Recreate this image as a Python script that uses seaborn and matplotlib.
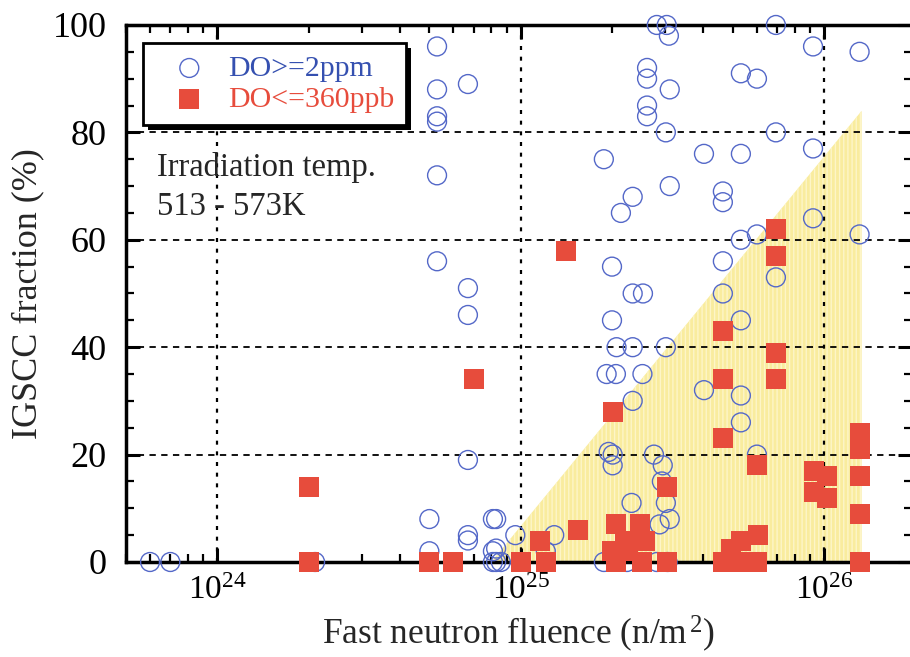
import matplotlib
matplotlib.use("Agg")
import matplotlib.pyplot as plt
import matplotlib.patheffects as pe
from matplotlib.ticker import LogLocator, MultipleLocator, LogFormatterMathtext, NullFormatter
import pandas as pd
import seaborn as sns

# %% data: fluence (n/m^2), IGSCC fraction (%)
do_high_fluence = [
    6.0e23, 7.0e23, 2.1e24, 5.0e24, 5.0e24, 5.3e24, 5.3e24, 5.3e24, 5.3e24, 5.3e24,
    5.3e24, 6.7e24, 6.7e24, 6.7e24, 6.7e24, 6.7e24, 6.7e24, 8.1e24, 8.3e24, 8.3e24,
    8.1e24, 8.1e24, 8.3e24, 8.6e24, 9.6e24, 1.21e25, 1.29e25, 1.88e25, 2.0e25, 1.88e25,
    2.0e25, 2.07e25, 1.92e25, 2.06e25, 1.95e25, 2.01e25, 2.01e25, 2.14e25, 2.34e25, 2.34e25,
    2.53e25, 2.34e25, 2.34e25, 2.32e25, 2.24e25, 2.52e25, 2.61e25, 2.61e25, 2.61e25, 2.61e25,
    2.75e25, 2.81e25, 2.87e25, 2.92e25, 2.94e25, 3.01e25, 3.01e25, 3.01e25, 3.10e25, 2.81e25,
    3.03e25, 3.08e25, 3.10e25, 3.10e25, 3.05e25, 4.02e25, 4.02e25, 4.64e25, 4.64e25, 4.64e25,
    4.64e25, 5.32e25, 6.01e25, 5.32e25, 5.32e25, 6.01e25, 5.32e25, 5.32e25, 5.32e25, 6.01e25,
    6.94e25, 6.94e25, 6.94e25, 9.2e25, 9.2e25, 9.2e25, 1.31e26, 1.31e26,
]
do_high_fraction = [
    0, 0, 0, 8, 2, 96, 88, 83, 82, 72,
    56, 89, 51, 46, 19, 5, 4, 8, 8, 2.5,
    2, 0, 0, 0, 5, 2, 5, 75, 55, 0,
    45, 40, 35, 35, 20.5, 20, 18, 65, 68, 50,
    50, 40, 30, 11, 0, 35, 92, 90, 85, 83,
    20, 0, 7, 15, 18, 80, 40, 11, 88, 100,
    100, 98, 70, 8, 0, 76, 32, 69, 67, 56,
    50, 91, 90, 76, 60, 61, 45, 31, 26, 20,
    100, 80, 53, 96, 77, 64, 95, 61,
]

do_low_fluence = [
    2.0e24, 2.0e24, 5.0e24, 6.0e24, 7.0e24, 1.0e25, 1.21e25, 1.16e25, 1.41e25, 1.54e25,
    2.01e25, 2.06e25, 2.47e25, 2.2e25, 2.57e25, 2.0e25, 2.25e25, 2.06e25, 2.51e25, 3.03e25,
    3.03e25, 4.64e25, 4.64e25, 4.64e25, 4.64e25, 4.93e25, 5.32e25, 5.32e25, 6.06e25, 6.01e25,
    6.01e25, 6.94e25, 6.94e25, 6.94e25, 6.94e25, 9.27e25, 9.27e25, 1.02e26, 1.02e26, 1.31e26,
    1.31e26, 1.31e26, 1.31e26, 1.31e26,
]
do_low_fraction = [
    14, 0, 0, 0, 34, 0, 0, 4, 58, 6,
    28, 7, 7, 4, 4, 2, 2, 0, 0, 0,
    14, 43, 34, 23, 0, 2.5, 4, 0, 5, 0,
    18, 62, 57, 39, 34, 17, 13, 16, 12, 24,
    21, 16, 9, 0,
]

# shaded region (triangle)
zone_fluence = [8.0e24, 1.33e26]
zone_upper = [0, 84]

labels = ["DO>=2ppm", "DO<=360ppb"]
blue_marker = "#5468c8"
blue_text = "#3550b0"
red = "#e74c3c"

# %%
sns.set_style("ticks")
plt.rcParams["font.family"] = ["Liberation Serif", "DejaVu Serif"]
plt.rcParams["mathtext.fontset"] = "custom"
plt.rcParams["mathtext.rm"] = "Liberation Serif"
plt.rcParams["mathtext.it"] = "Liberation Serif:italic"

df_high = pd.DataFrame({"fluence": do_high_fluence, "fraction": do_high_fraction})
df_low = pd.DataFrame({"fluence": do_low_fluence, "fraction": do_low_fraction})

fig = plt.figure(figsize=(9.1, 6.57), dpi=100)
ax = fig.add_axes([0.1385, 0.1446, 0.8637, 0.8174])
ax.set_xscale("log")

ax.fill_between(zone_fluence, [0, 0], zone_upper, facecolor="#f9ec9e",
                edgecolor="#fdf5c8", hatch="||||", linewidth=0, zorder=0.5)

for yv in [20, 40, 60, 80]:
    ax.axhline(yv, color="k", ls=(0, (3.5, 3)), lw=1.3, zorder=1)
for xv in [1e24, 1e25, 1e26]:
    ax.axvline(xv, color="k", ls=(0, (1.8, 3)), lw=1.6, zorder=1)

sns.scatterplot(data=df_high, x="fluence", y="fraction", marker="o", s=185,
                color=blue_marker, facecolor="none", edgecolor=blue_marker,
                linewidth=1.0, clip_on=False, zorder=3, label=labels[0], ax=ax)
sns.scatterplot(data=df_low, x="fluence", y="fraction", marker="s", s=200,
                color=red, linewidth=0, clip_on=False, zorder=4, label=labels[1], ax=ax)

ax.set_xlim(5.0e23, 1.95e26)
ax.set_ylim(0, 100)

ax.xaxis.set_major_locator(LogLocator(base=10, numticks=10))
ax.xaxis.set_minor_locator(LogLocator(base=10, subs=range(2, 10), numticks=20))
ax.xaxis.set_major_formatter(LogFormatterMathtext())
ax.xaxis.set_minor_formatter(NullFormatter())
ax.yaxis.set_major_locator(MultipleLocator(20))
ax.yaxis.set_minor_locator(MultipleLocator(5))

ax.tick_params(which="both", direction="in", top=True, right=True, colors="k")
ax.tick_params(which="major", length=10, width=2.2)
ax.tick_params(axis="y", which="major", pad=14, labelsize=26)
ax.tick_params(axis="x", which="major", pad=10, labelsize=24)
ax.tick_params(which="minor", length=6, width=1.6)
for sp in ax.spines.values():
    sp.set_linewidth(2.5)
    sp.set_color("k")

ax.set_xlabel(r"Fast neutron fluence (n/m$^{\,2}$)", fontsize=25.5, labelpad=5)
ax.set_ylabel("IGSCC fraction (%)", fontsize=26, labelpad=6)

ax.text(0.039, 0.719, "Irradiation temp.", transform=ax.transAxes, fontsize=23.5,
        va="baseline", ha="left")
ax.text(0.039, 0.646, "513 - 573K", transform=ax.transAxes, fontsize=23.5,
        va="baseline", ha="left")

leg = ax.legend(loc="upper left", bbox_to_anchor=(0.0216, 0.9665), borderaxespad=0,
                fontsize=21.5, frameon=True, fancybox=False, edgecolor="k",
                framealpha=1, labelcolor=[blue_text, red], borderpad=0.4,
                handletextpad=0.15, labelspacing=0.14, handlelength=2.3)
leg.set_zorder(6)
frame = leg.get_frame()
frame.set_linewidth(2)
frame.set_path_effects([pe.SimplePatchShadow(offset=(3.5, -3.5), shadow_rgbFace="k", alpha=1),
                        pe.Normal()])

fig.savefig("out.png", dpi=100)
